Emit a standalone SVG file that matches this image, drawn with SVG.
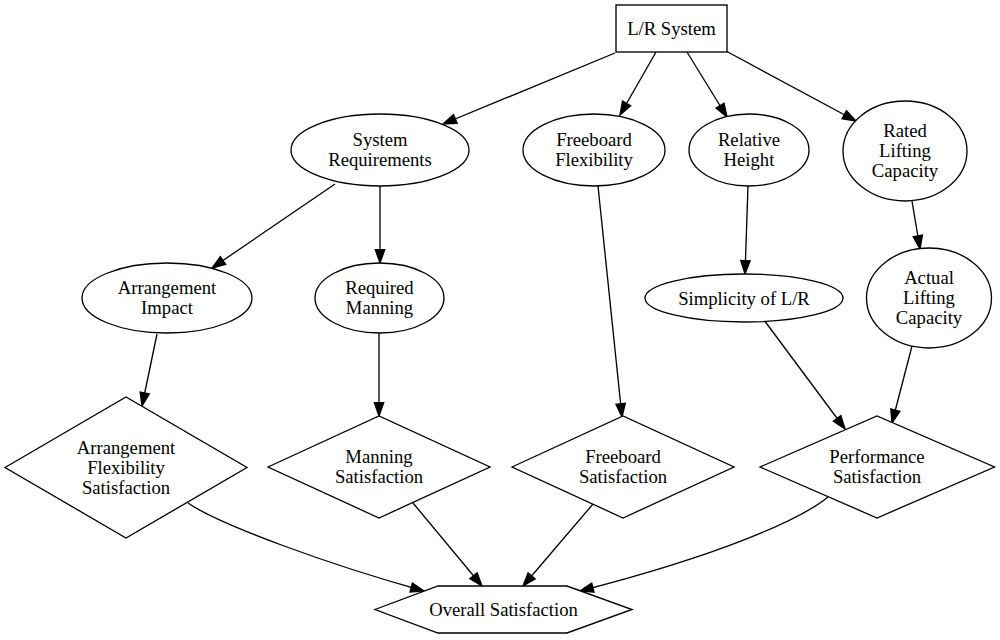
<svg xmlns="http://www.w3.org/2000/svg" width="1000" height="640" viewBox="0 0 1000 640">
  <style>
    .shape { fill: #ffffff; stroke: #000000; stroke-width: 1.33; }
    .edge { fill: none; stroke: #000000; stroke-width: 1.33; marker-end: url(#arrow); }
    text { font-family: "Liberation Serif", "Times New Roman", serif; font-size: 18.67px; fill: #000000; text-anchor: middle; }
  </style>
  <defs>
    <marker id="arrow" markerUnits="userSpaceOnUse" markerWidth="14" markerHeight="10" refX="13.3" refY="5" orient="auto" overflow="visible">
      <path d="M0,0.33 L13.3,5 L0,9.67 Z" fill="#000000" stroke="#000000" stroke-width="1.33"/>
    </marker>
  </defs>
  <rect width="1000" height="640" fill="#ffffff"/>

  <!-- connectors -->
  <g id="edges">
    <path class="edge" d="M615,53 L443,124"/>
    <path class="edge" d="M656,52 L620,115"/>
    <path class="edge" d="M687,52 L727,117"/>
    <path class="edge" d="M726,51 L856,121"/>
    <path class="edge" d="M335,184 L212,268"/>
    <path class="edge" d="M380,186 L380,263"/>
    <path class="edge" d="M598,186 L622,417"/>
    <path class="edge" d="M748,186 L745,274"/>
    <path class="edge" d="M912,201 L920,249"/>
    <path class="edge" d="M157,334 L142,406"/>
    <path class="edge" d="M379,333 L379,416"/>
    <path class="edge" d="M764,320 L845,429"/>
    <path class="edge" d="M912,346 L892,423"/>
    <path class="edge" d="M188,503 C220,525 330,565 424,591"/>
    <path class="edge" d="M413,503 L482,586"/>
    <path class="edge" d="M593,504 L523,586"/>
    <path class="edge" d="M828,497 C800,520 720,555 580,591"/>
  </g>

  <!-- nodes -->
  <g id="lr-system">
    <rect class="shape" x="616" y="5" width="111" height="47"/>
    <text x="671.5" y="34.5">L/R System</text>
  </g>
  <g id="system-requirements">
    <ellipse class="shape" cx="380" cy="150" rx="89" ry="36"/>
    <text x="380" y="146">System</text>
    <text x="380" y="166">Requirements</text>
  </g>
  <g id="freeboard-flexibility">
    <ellipse class="shape" cx="594" cy="150" rx="71" ry="36"/>
    <text x="594" y="146">Freeboard</text>
    <text x="594" y="166">Flexibility</text>
  </g>
  <g id="relative-height">
    <ellipse class="shape" cx="749" cy="150" rx="60" ry="36"/>
    <text x="749" y="146">Relative</text>
    <text x="749" y="166">Height</text>
  </g>
  <g id="rated-lifting-capacity">
    <ellipse class="shape" cx="905" cy="151" rx="62" ry="50"/>
    <text x="905" y="137">Rated</text>
    <text x="905" y="157">Lifting</text>
    <text x="905" y="177">Capacity</text>
  </g>
  <g id="arrangement-impact">
    <ellipse class="shape" cx="167" cy="298" rx="85" ry="35"/>
    <text x="167" y="294">Arrangement</text>
    <text x="167" y="314">Impact</text>
  </g>
  <g id="required-manning">
    <ellipse class="shape" cx="379.5" cy="298" rx="64.5" ry="35"/>
    <text x="379.5" y="294">Required</text>
    <text x="379.5" y="314">Manning</text>
  </g>
  <g id="simplicity-of-lr">
    <ellipse class="shape" cx="744" cy="298" rx="99" ry="24"/>
    <text x="744" y="304.5">Simplicity of L/R</text>
  </g>
  <g id="actual-lifting-capacity">
    <ellipse class="shape" cx="929" cy="298" rx="62.5" ry="50"/>
    <text x="929" y="284">Actual</text>
    <text x="929" y="304">Lifting</text>
    <text x="929" y="324">Capacity</text>
  </g>
  <g id="arrangement-flexibility-satisfaction">
    <polygon class="shape" points="5,467.5 126,397 247,467.5 126,538"/>
    <text x="126" y="453.5">Arrangement</text>
    <text x="126" y="473.5">Flexibility</text>
    <text x="126" y="493.5">Satisfaction</text>
  </g>
  <g id="manning-satisfaction">
    <polygon class="shape" points="268,467 379,416 490,467 379,518"/>
    <text x="379" y="463">Manning</text>
    <text x="379" y="483">Satisfaction</text>
  </g>
  <g id="freeboard-satisfaction">
    <polygon class="shape" points="512,467 623,416 734,467 623,518"/>
    <text x="623" y="463">Freeboard</text>
    <text x="623" y="483">Satisfaction</text>
  </g>
  <g id="performance-satisfaction">
    <polygon class="shape" points="760,467 877,416 994.5,467 877,518"/>
    <text x="877" y="463">Performance</text>
    <text x="877" y="483">Satisfaction</text>
  </g>
  <g id="overall-satisfaction">
    <polygon class="shape" points="375,609.5 438,586 567,586 632,609.5 567,633 438,633"/>
    <text x="503.5" y="616">Overall Satisfaction</text>
  </g>
</svg>
